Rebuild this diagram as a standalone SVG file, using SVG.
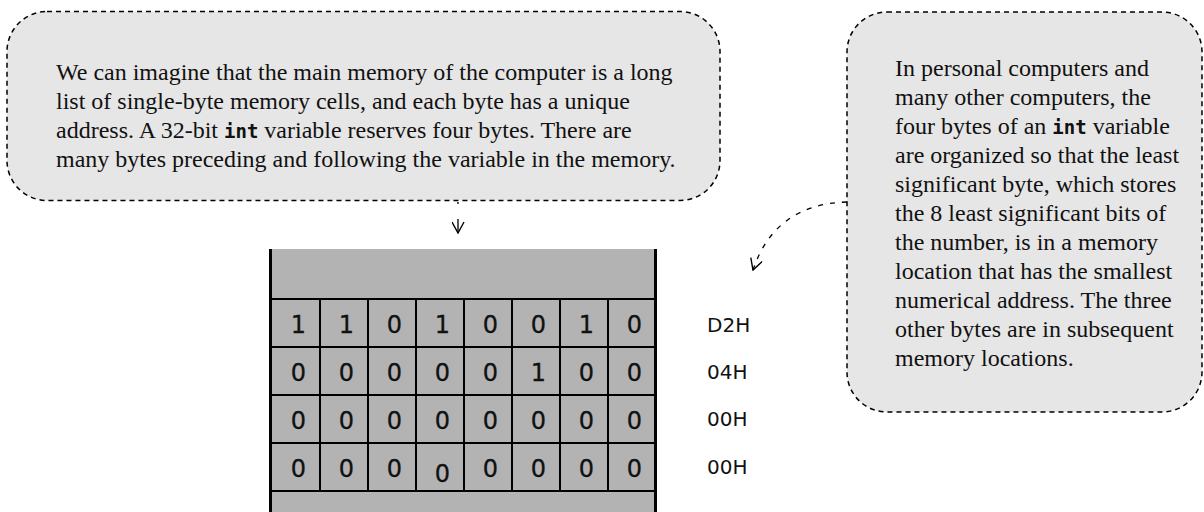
<svg xmlns="http://www.w3.org/2000/svg" width="1204" height="512" viewBox="0 0 1204 512">
<defs>
<style>
.note{fill:#e6e6e6;stroke:#000;stroke-width:1.5;stroke-dasharray:5 4}
.txt{font-family:"Liberation Serif","Times New Roman",serif;font-size:24px;fill:#111}
.code{font-family:"DejaVu Sans Mono",monospace;font-weight:bold;font-size:19px}
.bit{font-family:"DejaVu Sans",sans-serif;font-size:24px;text-anchor:middle;fill:#111;stroke:#111;stroke-width:0.3}
.addr{font-family:"DejaVu Sans",sans-serif;font-size:20px;fill:#111}
.conn{fill:none;stroke:#000;stroke-width:1.3;stroke-dasharray:5 7}
.cell{fill:#b3b3b3}
.edge{stroke:#000;stroke-width:3}
.grid{stroke:#000;stroke-width:2}
</style>
<marker id="vhead" markerUnits="userSpaceOnUse" markerWidth="13" markerHeight="13" viewBox="0 0 13 13" refX="12" refY="6.5" orient="auto">
<path d="M1,0.5 L12,6.5 L1,12.5" fill="none" stroke="#000" stroke-width="1.4"/>
</marker>
</defs>

<g id="note-memory">
<rect class="note" x="7" y="11.5" width="713" height="189" rx="40" ry="40"/>
<text class="txt" x="56" y="80">We can imagine that the main memory of the computer is a long</text>
<text class="txt" x="56" y="109">list of single-byte memory cells, and each byte has a unique</text>
<text class="txt" x="56" y="138">address. A 32-bit <tspan class="code">int</tspan> variable reserves four bytes. There are</text>
<text class="txt" x="56" y="167">many bytes preceding and following the variable in the memory.</text>
</g>

<g id="note-endian">
<rect class="note" x="847" y="12" width="355" height="400" rx="40" ry="40"/>
<text class="txt" x="895" y="76">In personal computers and</text>
<text class="txt" x="895" y="105">many other computers, the</text>
<text class="txt" x="895" y="134">four bytes of an <tspan class="code">int</tspan> variable</text>
<text class="txt" x="895" y="163">are organized so that the least</text>
<text class="txt" x="895" y="192">significant byte, which stores</text>
<text class="txt" x="895" y="221">the 8 least significant bits of</text>
<text class="txt" x="895" y="250">the number, is in a memory</text>
<text class="txt" x="895" y="279">location that has the smallest</text>
<text class="txt" x="895" y="308">numerical address. The three</text>
<text class="txt" x="895" y="337">other bytes are in subsequent</text>
<text class="txt" x="895" y="366">memory locations.</text>
</g>

<g id="memory">
<rect class="cell" x="270" y="249" width="385" height="263"/>
<line class="edge" x1="270.5" y1="249" x2="270.5" y2="512"/>
<line class="edge" x1="655.5" y1="249" x2="655.5" y2="512"/>
<g class="grid">
<line x1="270" y1="299" x2="655" y2="299"/>
<line x1="270" y1="347" x2="655" y2="347"/>
<line x1="270" y1="395" x2="655" y2="395"/>
<line x1="270" y1="443" x2="655" y2="443"/>
<line x1="270" y1="491" x2="655" y2="491"/>
<line x1="320" y1="299" x2="320" y2="491"/>
<line x1="368" y1="299" x2="368" y2="491"/>
<line x1="416" y1="299" x2="416" y2="491"/>
<line x1="464" y1="299" x2="464" y2="491"/>
<line x1="512" y1="299" x2="512" y2="491"/>
<line x1="560" y1="299" x2="560" y2="491"/>
<line x1="608" y1="299" x2="608" y2="491"/>
</g>
<g id="byte-0">
<text class="bit" x="298.5" y="333">1</text><text class="bit" x="346.5" y="333">1</text><text class="bit" x="394.5" y="333">0</text><text class="bit" x="442.5" y="333">1</text><text class="bit" x="490.5" y="333">0</text><text class="bit" x="538.5" y="333">0</text><text class="bit" x="586.5" y="333">1</text><text class="bit" x="634.5" y="333">0</text>
</g>
<g id="byte-1">
<text class="bit" x="298.5" y="381">0</text><text class="bit" x="346.5" y="381">0</text><text class="bit" x="394.5" y="381">0</text><text class="bit" x="442.5" y="381">0</text><text class="bit" x="490.5" y="381">0</text><text class="bit" x="538.5" y="381">1</text><text class="bit" x="586.5" y="381">0</text><text class="bit" x="634.5" y="381">0</text>
</g>
<g id="byte-2">
<text class="bit" x="298.5" y="428.5">0</text><text class="bit" x="346.5" y="428.5">0</text><text class="bit" x="394.5" y="428.5">0</text><text class="bit" x="442.5" y="428.5">0</text><text class="bit" x="490.5" y="428.5">0</text><text class="bit" x="538.5" y="428.5">0</text><text class="bit" x="586.5" y="428.5">0</text><text class="bit" x="634.5" y="428.5">0</text>
</g>
<g id="byte-3">
<text class="bit" x="298.5" y="477">0</text><text class="bit" x="346.5" y="477">0</text><text class="bit" x="394.5" y="477">0</text><text class="bit" x="442.5" y="482">0</text><text class="bit" x="490.5" y="477">0</text><text class="bit" x="538.5" y="477">0</text><text class="bit" x="586.5" y="477">0</text><text class="bit" x="634.5" y="477">0</text>
</g>
</g>

<g id="addresses">
<text class="addr" x="707" y="332">D2H</text>
<text class="addr" x="707" y="379">04H</text>
<text class="addr" x="707" y="426">00H</text>
<text class="addr" x="707" y="474">00H</text>
</g>

<g id="connectors">
<path class="conn" d="M458,202 L458,233" style="stroke-dasharray:2 15 20" marker-end="url(#vhead)"/>
<path class="conn" d="M847,202 Q775,204 753,270" marker-end="url(#vhead)"/>
</g>
</svg>
